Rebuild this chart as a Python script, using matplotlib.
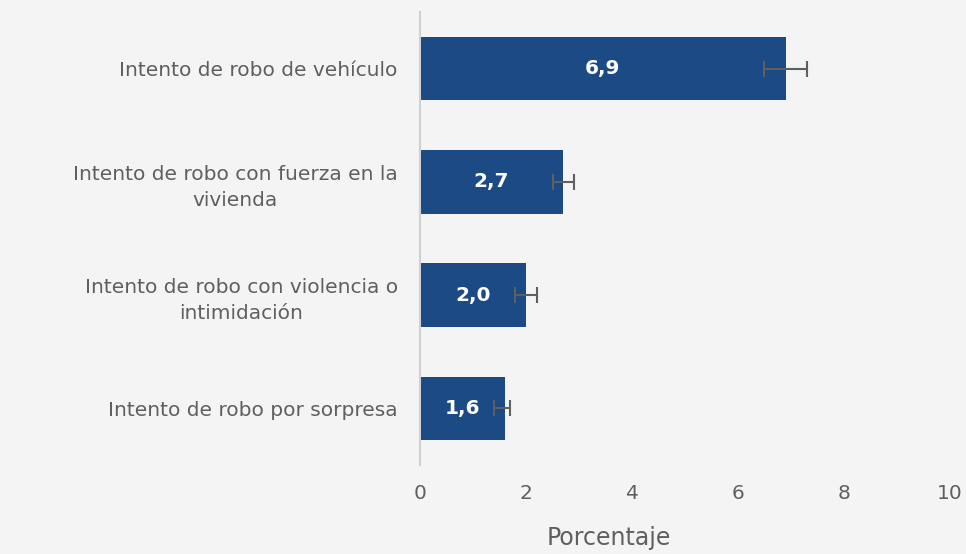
import matplotlib
matplotlib.use('Agg')
import matplotlib.pyplot as plt
import numpy as np

categorias = ["Intento de robo de vehículo",
              "Intento de robo con fuerza en la\nvivienda",
              "Intento de robo con violencia o\nintimidación",
              "Intento de robo por sorpresa"]
valores = [6.9, 2.7, 2.0, 1.6]
err_inf = [0.4, 0.2, 0.2, 0.2]
err_sup = [0.4, 0.2, 0.2, 0.1]
etiquetas = ["6,9", "2,7", "2,0", "1,6"]

fondo = "#f4f4f4"
azul = "#1c4a85"
gris = "#5f5f5f"

plt.rcParams['font.family'] = ['DejaVu Sans']

fig = plt.figure(figsize=(9.66, 5.54), dpi=100, facecolor=fondo)
ax = fig.add_axes([0.4348, 0.1606, 0.5486, 0.8177])
ax.set_facecolor(fondo)

y = np.arange(len(categorias))
ax.barh(y, valores, height=0.56, color=azul, zorder=2)
ax.errorbar(valores, y, xerr=[err_inf, err_sup], fmt='none', ecolor=gris,
            elinewidth=1.5, capsize=6, capthick=1.5, zorder=3)

for yi, v, t in zip(y, valores, etiquetas):
    ax.text(v / 2, yi, t, color='white', fontsize=14.5, fontweight='bold',
            ha='center', va='center', zorder=4)

ax.set_ylim(3.5, -0.5)
ax.set_xlim(0, 10)
ax.set_xticks([0, 2, 4, 6, 8, 10])
ax.set_yticks(y)
ax.set_yticklabels(categorias, multialignment='center', linespacing=1.45)

for s in ['top', 'right', 'bottom']:
    ax.spines[s].set_visible(False)
ax.spines['left'].set_color('#d0d0d0')
ax.spines['left'].set_linewidth(1.5)

ax.tick_params(axis='y', length=0, pad=16, labelsize=14.5, labelcolor=gris)
ax.tick_params(axis='x', length=0, pad=14, labelsize=14.5, labelcolor=gris)
ax.set_xlabel("Porcentaje", fontsize=17, color=gris)
ax.xaxis.set_label_coords(0.357, -0.135)

fig.savefig("out.png", dpi=100, facecolor=fondo)
